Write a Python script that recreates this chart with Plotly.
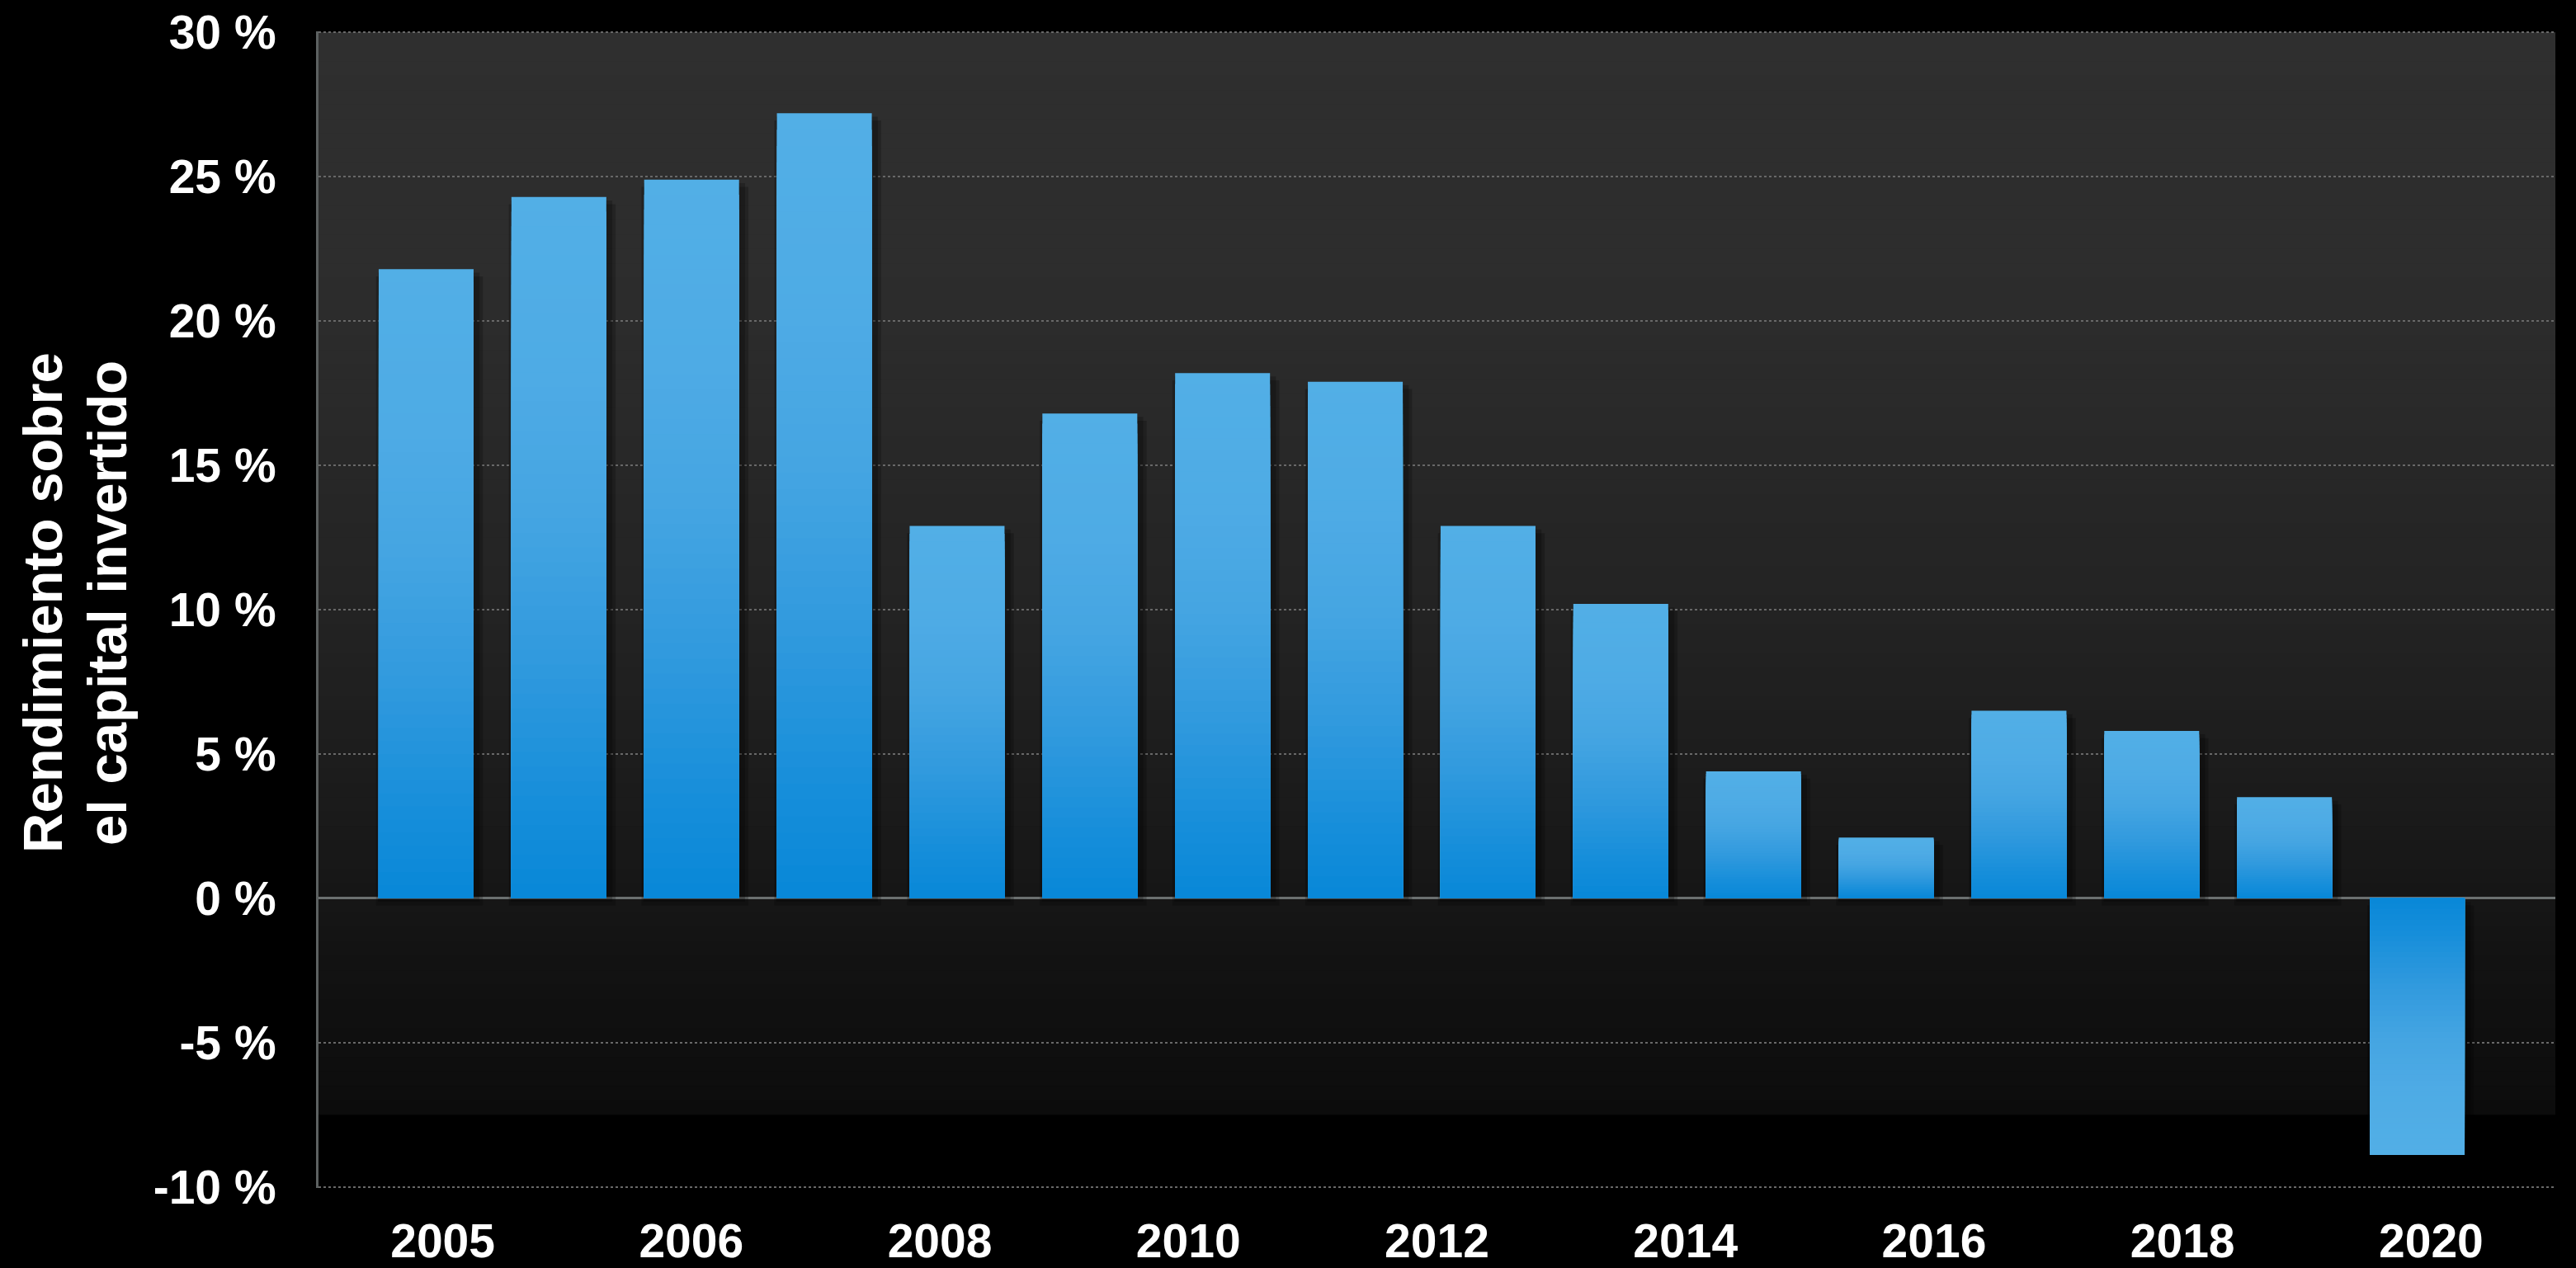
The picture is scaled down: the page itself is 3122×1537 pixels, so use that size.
import plotly.graph_objects as go

# Return on invested capital by year (%)
years = list(range(2005, 2021))
roic = [21.8, 24.3, 24.9, 27.2, 12.9, 16.8, 18.2, 17.9, 12.9, 10.2,
        4.4, 2.1, 6.5, 5.8, 3.5, -8.9]

axis_labels = ["2005", "2006", "2008", "2010", "2012", "2014", "2016", "2018", "2020"]
y_ticks = [-10, -5, 0, 5, 10, 15, 20, 25, 30]
y_tick_labels = ["-10 %", "-5 %", "0 %", "5 %", "10 %", "15 %", "20 %", "25 %", "30 %"]
title_lines = ["Rendimiento sobre", "el capital invertido"]

FONT = "Liberation Sans"
W, H = 3122, 1537
M_L, M_R, M_T, M_B = 386, 25, 38, 97
BAR_W = 0.715


def lerp_color(stops, t):
    """Piecewise-linear colour interpolation; stops = [(pos, (r, g, b)), ...]."""
    for (p0, c0), (p1, c1) in zip(stops, stops[1:]):
        if t <= p1:
            f = 0 if p1 == p0 else (t - p0) / (p1 - p0)
            r, g, b = (round(a + (b_ - a) * f) for a, b_ in zip(c0, c1))
            return f"rgb({r},{g},{b})"
    r, g, b = stops[-1][1]
    return f"rgb({r},{g},{b})"


fig = go.Figure()

# Soft drop shadow behind each bar (slightly wider, shifted right and down)
for extra, left, drop in [(0.09, 0.02, 0.25), (0.05, 0.005, 0.12)]:
    fig.add_trace(go.Bar(
        x=years, y=roic, base=-drop, width=BAR_W + extra,
        offset=-BAR_W / 2 - left,
        marker=dict(color="rgba(0,0,0,0.22)", line=dict(width=0)),
        showlegend=False, hoverinfo="skip",
    ))

# Bars: overlaid copies of each bar, each shorter one darker, so the bar
# shades from a deep blue at the zero line to a lighter blue at its tip.
bar_stops = [(0.00, (8, 136, 216)), (0.15, (24, 143, 218)), (0.35, (50, 154, 222)),
             (0.55, (69, 165, 226)), (0.75, (78, 171, 229)), (1.00, (82, 175, 230))]
N_SLICES = 48
for k in range(N_SLICES):
    frac = (N_SLICES - k) / N_SLICES          # share of the bar's length
    t = frac - 0.5 / N_SLICES                 # colour at the tip of this copy
    fig.add_trace(go.Bar(
        x=years, y=[v * frac for v in roic], width=BAR_W,
        marker=dict(color=lerp_color(bar_stops, t), line=dict(width=0)),
        showlegend=False, hoverinfo="skip",
    ))

# Invisible carrier trace for the evenly spaced year labels along the bottom
fig.add_trace(go.Scatter(
    x=axis_labels, y=[0] * len(axis_labels), xaxis="x2", yaxis="y",
    mode="markers", marker=dict(opacity=0), showlegend=False, hoverinfo="skip",
))

# Plot-area backdrop: dark grey fading to near black, ending at -7.5 %
bg_stops = [(-7.5, 0x0c), (-5.0, 0x0f), (-2.5, 0x12), (0.0, 0x16),
            (5.0, 0x1d), (10.0, 0x23), (20.0, 0x2c), (30.0, 0x2f)]
shapes = []
step = 0.5
n_bands = int(round((30 - (-7.5)) / step))
for i in range(n_bands):
    y0 = -7.5 + i * step
    yc = y0 + step / 2
    for (a, ca), (b, cb) in zip(bg_stops, bg_stops[1:]):
        if a <= yc <= b:
            g = round(ca + (cb - ca) * (yc - a) / (b - a))
            break
    shapes.append(dict(type="rect", xref="paper", yref="y", x0=0, x1=1,
                       y0=y0, y1=30, fillcolor=f"rgb({g},{g},{g})",
                       line=dict(width=0), layer="below"))

annotations = []
for txt, xc in zip(title_lines, [51, 129]):
    annotations.append(dict(
        text=txt, textangle=-90, showarrow=False,
        xref="paper", yref="paper",
        x=(xc - M_L) / (W - M_L - M_R), y=(H - M_B - 731) / (H - M_T - M_B),
        xanchor="center", yanchor="middle",
        font=dict(family=FONT, size=67, color="white", weight="bold"),
    ))

fig.update_layout(
    width=W, height=H,
    margin=dict(l=M_L, r=M_R, t=M_T, b=M_B, pad=0, autoexpand=False),
    paper_bgcolor="black", plot_bgcolor="black",
    barmode="overlay",
    shapes=shapes, annotations=annotations,
    xaxis=dict(range=[2005 - 0.811, 2020 + 1.041], showticklabels=False,
               showgrid=False, zeroline=False, showline=False, ticks="",
               automargin=False),
    xaxis2=dict(overlaying="x", anchor="y", side="bottom", type="category",
                range=[-0.5, len(axis_labels) - 0.5], showgrid=False,
                zeroline=False, showline=False, ticks="", automargin=False,
                ticklabelstandoff=26,
                tickfont=dict(family=FONT, size=57, color="white", weight="bold")),
    yaxis=dict(range=[-10.04, 30.04], tickvals=y_ticks, ticktext=y_tick_labels,
               showgrid=True, gridcolor="#686868", gridwidth=2, griddash="dot",
               zeroline=True, zerolinecolor="#6b7070", zerolinewidth=3,
               showline=True, linecolor="#5c6161", linewidth=3, ticks="",
               automargin=False, ticklabelstandoff=37,
               tickfont=dict(family=FONT, size=57, color="white", weight="bold")),
    font=dict(family=FONT, color="white"),
)

fig.write_html("out.html")
